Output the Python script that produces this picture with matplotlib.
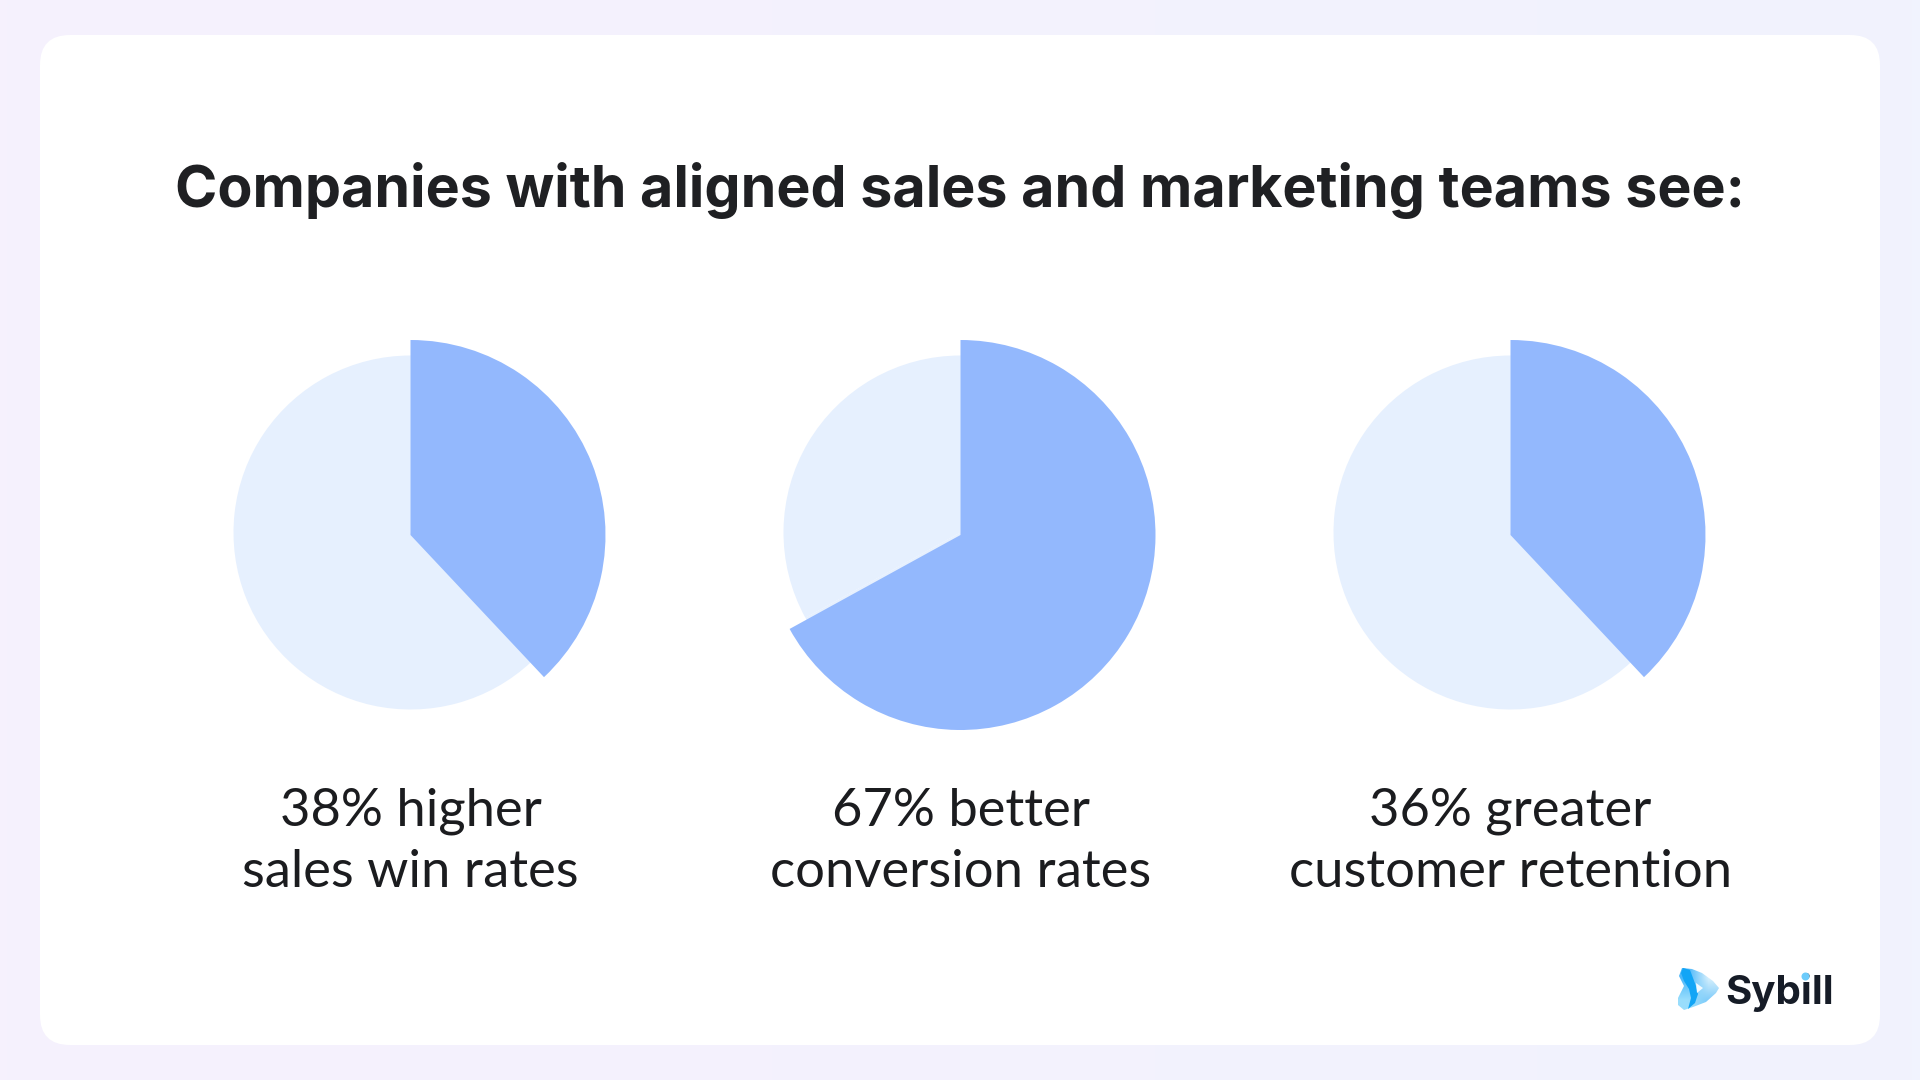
import numpy as np
import matplotlib
matplotlib.use("Agg")
import matplotlib.pyplot as plt
from matplotlib.patches import FancyBboxPatch, PathPatch, Circle, Polygon
from matplotlib.path import Path

W, H = 1920, 1080

title = "Companies with aligned sales and marketing teams see:"
labels = ["38% higher\nsales win rates", "67% better\nconversion rates", "36% greater\ncustomer retention"]
# share of each pie drawn dark (third is drawn like the first)
drawn_share = [38, 67, 38]
pie_centres_x = [410.5, 960.5, 1510.5]
pie_centre_y = 535
outer_r = 195
inner_r = 177
inner_drop = 2.5  # the light disc sits a little above the dark slice

DARK = "#93B8FD"
LIGHT = "#E6F0FE"

fig = plt.figure(figsize=(W / 100, H / 100), dpi=100)

# page background, faint left to right tint
bg = fig.add_axes([0, 0, 1, 1])
bg.set_xlim(0, W)
bg.set_ylim(H, 0)
bg.axis("off")
left = np.array(matplotlib.colors.to_rgb("#F6F1FD"))
right = np.array(matplotlib.colors.to_rgb("#F1F3FE"))
t = np.linspace(0, 1, 256)[None, :, None]
bg.imshow(left + (right - left) * t, extent=[0, W, H, 0], aspect="auto", zorder=0)

card = FancyBboxPatch((40 + 30, 35 + 30), 1840 - 60, 1010 - 60,
                      boxstyle="round,pad=30,rounding_size=30", fc="white", ec="none", zorder=1)
bg.add_patch(card)

bg.text(960, 190.5, title, fontsize=41.3, fontweight="bold", family="Inter",
        color="#1F2023", ha="center", va="center", zorder=2)

for share, label, cx in zip(drawn_share, labels, pie_centres_x):
    ax = fig.add_axes([(cx - outer_r) / W, 1 - (pie_centre_y + outer_r) / H,
                       2 * outer_r / W, 2 * outer_r / H])
    ax.pie([share, 100 - share], colors=[LIGHT, LIGHT], startangle=90, counterclock=False,
           radius=inner_r / outer_r, center=(0, inner_drop / outer_r))
    ax.pie([share, 100 - share], colors=[DARK, "none"], startangle=90, counterclock=False,
           radius=1, center=(0, 0))
    ax.set_xlim(-1, 1)
    ax.set_ylim(-1, 1)
    bg.text(cx, 842, label, fontsize=37.8, family="Lato", color="#1B1C1F",
            ha="center", va="center", linespacing=1.36, zorder=2)

# logo
verts = [(1679, 976), (1682, 968), (1692, 969), (1702, 973), (1713, 981), (1719, 988),
         (1716, 993), (1706, 1002), (1693, 1007), (1684, 1010), (1678, 1005), (1678, 998),
         (1682, 990), (1684, 986), (1679, 976)]
codes = [Path.MOVETO] + [Path.LINETO] * (len(verts) - 2) + [Path.CLOSEPOLY]
logo_path = Path(verts, codes)
logo_bg = bg.imshow(np.array([[[0.30, 0.72, 0.98], [0.84, 0.94, 0.99]],
                              [[0.60, 0.87, 0.99], [0.50, 0.80, 0.98]]]),
                    extent=[1678, 1719, 1011, 967], aspect="auto", interpolation="bilinear", zorder=3)
logo_bg.set_clip_path(PathPatch(logo_path, transform=bg.transData))
swoosh = [(1683, 968), (1690, 970), (1693, 978), (1696, 986), (1698, 994), (1695, 1003), (1688, 1009),
          (1691, 998), (1689, 989), (1684, 981), (1681, 973)]
bg.add_patch(Polygon(swoosh, closed=True, fc="#12A5F6", ec="none", zorder=4))
bg.add_patch(Polygon([(1696, 983), (1703, 988), (1697, 993)], closed=True, fc="#F2FAFF", ec="none", zorder=5))
bg.set_xlim(0, W)
bg.set_ylim(H, 0)

bg.text(1725, 992.5, "Sybill", fontsize=29, fontweight="bold", family="Inter", color="#161C27",
        ha="left", va="center", zorder=3)
bg.add_patch(Circle((1805.5, 976.5), 4, fc="#6CCBFB", ec="none", zorder=4))

fig.savefig("out.png", dpi=100)
